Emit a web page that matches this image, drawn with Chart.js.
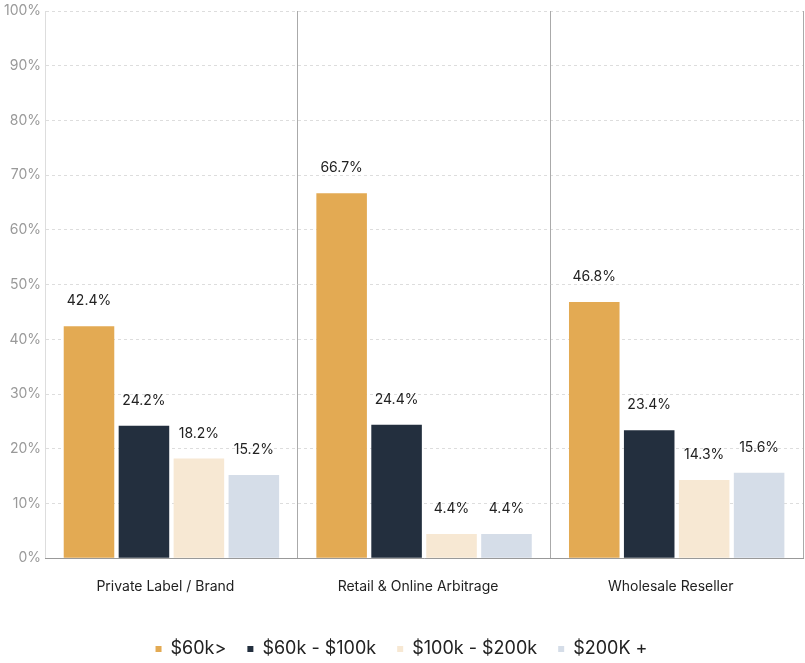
<!DOCTYPE html>
<html>
<head>
<meta charset="utf-8">
<script src="https://cdn.jsdelivr.net/npm/chart.js@4.4.0/dist/chart.umd.min.js"></script>
<style>
    html, body { margin: 0; padding: 0; background: #fff; }
    #wrap { width: 805px; height: 663px; }
</style>
</head>
<body>
<div id="wrap"><canvas id="barChart"></canvas></div>
<script>
const categories = ['Private Label / Brand', 'Retail & Online Arbitrage', 'Wholesale Reseller'];
const seriesNames = ['$60k>', '$60k - $100k', '$100k - $200k', '$200K +'];
const under60k = [42.4, 66.7, 46.8];
const from60to100k = [24.2, 24.4, 23.4];
const from100to200k = [18.2, 4.4, 14.3];
const over200k = [15.2, 4.4, 15.6];
const colors = ['#e3aa53', '#232f3e', '#f7e8d3', '#d5dde8'];

// labels above each bar
const barValueLabels = {
    id: 'barValueLabels',
    afterDatasetsDraw(chart) {
        const ctx = chart.ctx;
        ctx.save();
        ctx.font = '14px Inter';
        ctx.fillStyle = '#222';
        ctx.textAlign = 'center';
        ctx.textBaseline = 'middle';
        chart.data.datasets.forEach((ds, i) => {
            const meta = chart.getDatasetMeta(i);
            meta.data.forEach((bar, j) => {
                ctx.fillText(ds.data[j].toFixed(1) + '%', bar.x, bar.y - 25);
            });
        });
        ctx.restore();
    }
};

const seriesData = [under60k, from60to100k, from100to200k, over200k];

new Chart(document.getElementById('barChart'), {
    type: 'bar',
    data: {
        labels: categories,
        datasets: seriesData.map((d, i) => ({
            label: seriesNames[i],
            data: d,
            backgroundColor: colors[i],
            borderWidth: 0,
            barPercentage: 0.92,
            categoryPercentage: 0.87
        }))
    },
    options: {
        responsive: true,
        maintainAspectRatio: false,
        animation: false,
        layout: {
            padding: { top: -8, right: 2, left: 0, bottom: -5 }
        },
        plugins: {
            legend: {
                position: 'bottom',
                // empty title only used as spacer above the items
                title: {
                    display: true,
                    text: ' ',
                    font: { size: 1, lineHeight: 1 },
                    padding: { top: 0, bottom: 3 }
                },
                labels: {
                    boxWidth: 6,
                    boxHeight: 6,
                    padding: 21,
                    color: '#222',
                    font: { size: 18, family: 'Inter' }
                }
            },
            tooltip: { enabled: false }
        },
        scales: {
            y: {
                min: 0,
                max: 100,
                ticks: {
                    stepSize: 10,
                    color: '#999',
                    padding: 4,
                    font: { size: 14, family: 'Inter', lineHeight: 1 },
                    callback: function(value) {
                        return value + '%';
                    }
                },
                grid: {
                    color: '#ddd',
                    drawTicks: false
                },
                border: {
                    color: '#ddd',
                    dash: [3, 3]
                }
            },
            x: {
                ticks: {
                    color: '#222',
                    padding: 20,
                    labelOffset: -6,
                    font: { size: 14, family: 'Inter' }
                },
                grid: {
                    offset: true,
                    drawTicks: false,
                    color: function(context) {
                        return (context.index === 0 || context.index === 3) ? 'transparent' : '#aaa';
                    }
                },
                border: {
                    color: '#999'
                }
            }
        }
    },
    plugins: [barValueLabels]
});
</script>
</body>
</html>
